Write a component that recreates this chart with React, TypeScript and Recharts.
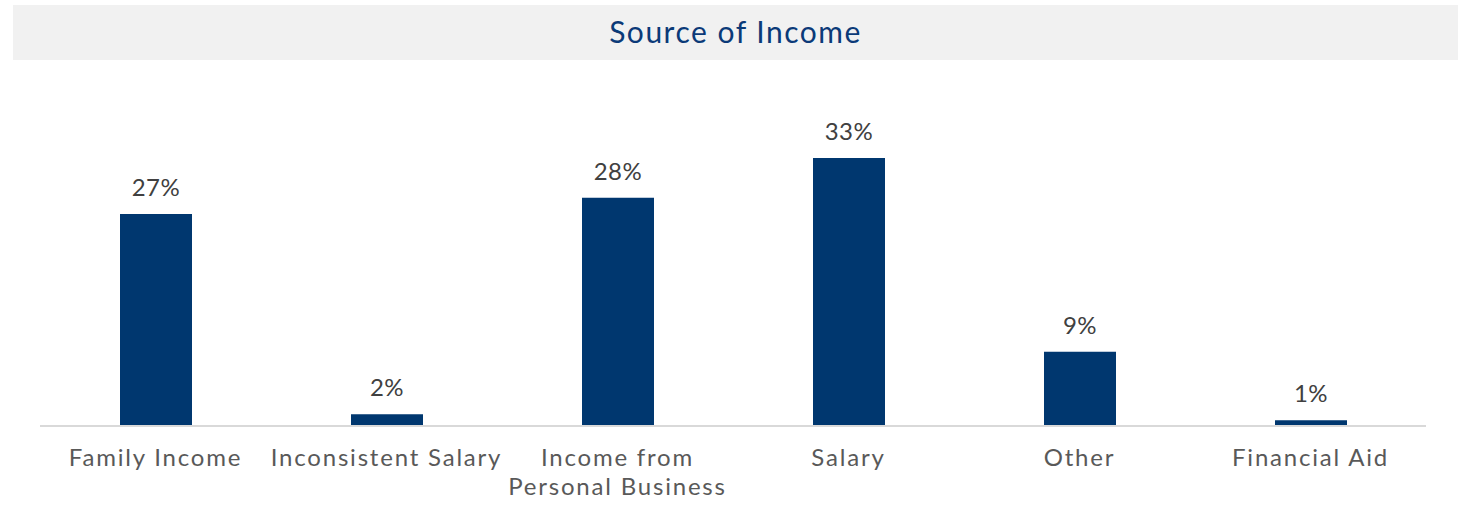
import React from "react";
import { BarChart, Bar, XAxis, YAxis, LabelList } from "recharts";

// values; labels are the printed percentages
const categories = [
  "Family Income",
  "Inconsistent Salary",
  "Income from\nPersonal Business",
  "Salary",
  "Other",
  "Financial Aid",
];
const shares = [26.1, 1.45, 28.1, 33, 9.15, 0.7];
const shareLabels = ["27%", "2%", "28%", "33%", "9%", "1%"];

const data = categories.map((name, i) => ({
  name,
  share: shares[i],
  label: shareLabels[i],
}));

const FONT = "Lato, 'Noto Sans', sans-serif";

const CategoryTick = (props: any) => {
  const { x, y, payload } = props;
  const lines = String(payload.value).split("\n");
  return (
    <text
      x={x}
      y={y}
      textAnchor="middle"
      fill="#595959"
      fontFamily={FONT}
      fontSize={24}
      letterSpacing={1.8}
    >
      {lines.map((line, i) => (
        <tspan key={i} x={x} dy={i === 0 ? 32 : 29}>
          {line}
        </tspan>
      ))}
    </text>
  );
};

const App = () => {
  return (
    <div style={{ position: "absolute", left: 0, top: 0, width: 1465, height: 512, background: "#fff" }}>
      <div
        style={{
          position: "absolute",
          left: 13,
          top: 5,
          width: 1445,
          height: 55,
          background: "#f1f1f1",
          display: "flex",
          alignItems: "center",
          justifyContent: "center",
          color: "#0b3a78",
          fontFamily: FONT,
          fontSize: 30,
          letterSpacing: 1.5,
          lineHeight: "30px",
          paddingBottom: 3,
          boxSizing: "border-box",
        }}
      >
        Source of Income
      </div>
      <div style={{ position: "absolute", left: 0, top: 0 }}>
        <BarChart
          width={1465}
          height={512}
          data={data}
          margin={{ top: 101, right: 39, bottom: 56, left: 40 }}
          barSize={72}
        >
          <XAxis
            dataKey="name"
            axisLine={{ stroke: "#d9d9d9", strokeWidth: 2 }}
            tickLine={false}
            tick={<CategoryTick />}
            interval={0}
            height={30}
          />
          <YAxis hide domain={[0, 40]} />
          <Bar dataKey="share" fill="#00376f" isAnimationActive={false}>
            <LabelList
              dataKey="label"
              position="top"
              offset={18}
              fill="#404040"
              fontFamily={FONT}
              fontSize={24}
              letterSpacing={0.5}
            />
          </Bar>
        </BarChart>
      </div>
    </div>
  );
};

export default App;
